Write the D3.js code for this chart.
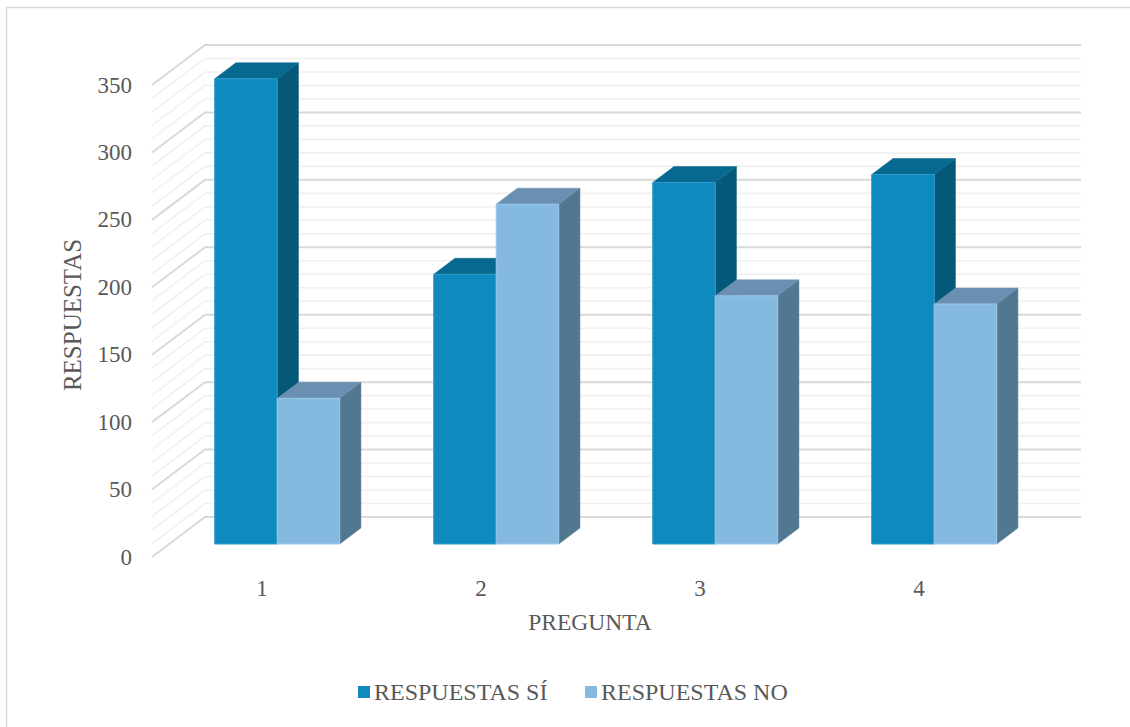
<!DOCTYPE html>
<html>
<head>
<meta charset="utf-8">
<script src="https://cdn.jsdelivr.net/npm/d3@7"></script>
<style>
  html, body { margin: 0; padding: 0; background: #ffffff; }
  svg { display: block; }
  text { font-family: "Liberation Serif", "Times New Roman", serif; fill: #595959; }
</style>
</head>
<body>
<svg id="chart" width="1130" height="727"></svg>
<script>
// Survey answers per question
const categories = ["1", "2", "3", "4"];
const seriesNames = ["RESPUESTAS SÍ", "RESPUESTAS NO"];
const valuesSi = [345, 200, 268, 274];
const valuesNo = [108, 252, 184, 178];
const yTicks = [0, 50, 100, 150, 200, 250, 300, 350];
const xTitle = "PREGUNTA";
const yTitle = "RESPUESTAS";

const series = [
  { name: seriesNames[0], values: valuesSi, front: "#0e8abe", top: "#07698f", side: "#065878", edge: "#2d9bc8" },
  { name: seriesNames[1], values: valuesNo, front: "#85bae0", top: "#6a8fb0", side: "#527791", edge: "#9cc8e8" }
];

const svg = d3.select("#chart");

// chart frame
svg.append("path")
  .attr("d", "M6.5,740 L6.5,7.5 L1140,7.5")
  .attr("fill", "none")
  .attr("stroke", "#d9d9d9")
  .attr("stroke-width", 1.5);

// oblique 3D layout: back wall plane, depth vector towards the viewer
const wall = { left: 205, right: 1081 };
const depth = { dx: -53, dy: 40 };
const barFrontD = 0.675, barBackD = 0.275;

const y = d3.scaleLinear().domain([0, 350]).range([517, 45]);
const x0 = d3.scaleBand().domain(categories).range([wall.left - 1.5, wall.right - 1.5]).padding(0);
const x1 = d3.scaleBand().domain(seriesNames).range([0, x0.bandwidth()]).paddingInner(0).paddingOuter(0.752);

const proj = (x, v, d) => [x + d * depth.dx, y(v) + d * depth.dy];

// gridlines: minor every 10, major every 50
const grid = svg.append("g");
const gridVals = d3.range(0, 351, 10);
gridVals.forEach(v => {
  const major = v % 50 === 0;
  const p0 = proj(wall.left, v, 1);
  const p1 = proj(wall.left, v, 0);
  const p2 = proj(wall.right, v, 0);
  grid.append("path")
    .attr("d", `M${p0[0]},${p0[1]} L${p1[0]},${p1[1]} L${p2[0]},${p2[1]}`)
    .attr("fill", "none")
    .attr("stroke", major ? "#d9d9d9" : "#f0f0f0")
    .attr("stroke-width", major ? 2 : 1.6);
});

// y tick labels on the front edge of the side wall
svg.append("g").selectAll("text")
  .data(yTicks)
  .join("text")
  .attr("x", d => proj(wall.left, d, 1)[0] - 20)
  .attr("y", d => proj(wall.left, d, 1)[1])
  .attr("text-anchor", "end")
  .attr("dominant-baseline", "central")
  .style("font-size", "23px")
  .text(d => d);

// bars as prisms
const bars = svg.append("g");
categories.forEach((c, i) => {
  series.forEach(s => {
    const v = s.values[i];
    const xl = x0(c) + x1(s.name);
    const xr = xl + x1.bandwidth();
    const fTL = proj(xl, v, barFrontD), fTR = proj(xr, v, barFrontD);
    const fBL = proj(xl, 0, barFrontD), fBR = proj(xr, 0, barFrontD);
    const bTL = proj(xl, v, barBackD), bTR = proj(xr, v, barBackD);
    const bBR = proj(xr, 0, barBackD);
    const poly = pts => "M" + pts.map(p => p.join(",")).join("L") + "Z";
    bars.append("path").attr("d", poly([fTR, bTR, bBR, fBR])).attr("fill", s.side)
      .attr("stroke", s.side).attr("stroke-width", 0.5);
    bars.append("path").attr("d", poly([fTL, bTL, bTR, fTR])).attr("fill", s.top)
      .attr("stroke", s.top).attr("stroke-width", 0.5);
    bars.append("path").attr("d", poly([fTL, fTR, fBR, fBL])).attr("fill", s.front)
      .attr("stroke", s.edge).attr("stroke-width", 1);
  });
});

// category labels
svg.append("g").selectAll("text")
  .data(categories)
  .join("text")
  .attr("x", d => proj(x0(d) + x0.bandwidth() / 2, 0, 1)[0] + 2)
  .attr("y", proj(0, 0, 1)[1] + 31)
  .attr("text-anchor", "middle")
  .attr("dominant-baseline", "central")
  .style("font-size", "23px")
  .text(d => d);

// axis titles
svg.append("text")
  .attr("x", 590).attr("y", 622)
  .attr("text-anchor", "middle")
  .attr("dominant-baseline", "central")
  .style("font-size", "23.5px")
  .text(xTitle);

svg.append("text")
  .attr("transform", "translate(72,315) rotate(-90)")
  .attr("text-anchor", "middle")
  .attr("dominant-baseline", "central")
  .style("font-size", "25px")
  .text(yTitle);

// legend
const legendX = [358, 585];
const legend = svg.append("g");
series.forEach((s, i) => {
  legend.append("rect")
    .attr("x", legendX[i]).attr("y", 686)
    .attr("width", 12).attr("height", 12)
    .attr("fill", s.front);
  legend.append("text")
    .attr("x", legendX[i] + 16).attr("y", 692)
    .attr("dominant-baseline", "central")
    .style("font-size", "24px")
    .text(s.name);
});
</script>
</body>
</html>
